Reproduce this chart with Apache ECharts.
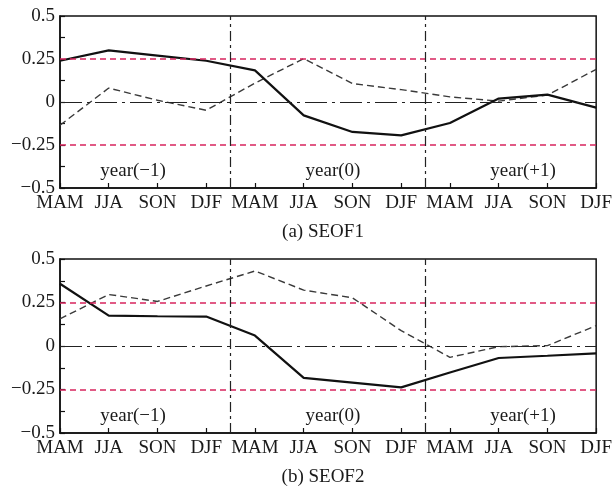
<!DOCTYPE html>
<html><head><meta charset="utf-8">
<script src="https://cdn.jsdelivr.net/npm/echarts@6/dist/echarts.min.js"></script>
<style>html,body{margin:0;padding:0;background:#fff}#c{width:615px;height:487px}</style>
</head><body><div id="c"></div>
<script>
const categories = ['MAM','JJA','SON','DJF','MAM','JJA','SON','DJF','MAM','JJA','SON','DJF'];
const seof1Solid  = [0.24, 0.30, 0.27, 0.24, 0.184, -0.078, -0.174, -0.194, -0.122, 0.02, 0.043, -0.033];
const seof1Dashed = [-0.135, 0.081, 0.01, -0.048, 0.11, 0.252, 0.107, 0.072, 0.03, 0.005, 0.04, 0.19];
const seof2Solid  = [0.358, 0.175, 0.171, 0.169, 0.06, -0.183, -0.21, -0.238, -0.152, -0.069, -0.056, -0.042];
const seof2Dashed = [0.156, 0.296, 0.256, 0.345, 0.431, 0.321, 0.277, 0.088, -0.065, -0.004, 0.002, 0.117];
const yearLabels = ['year(\u22121)', 'year(0)', 'year(+1)'];
const yearPos = [1.5, 5.6, 9.5];
const refLevels = [0.25, -0.25];
const zeroLevel = [0];
const yearBounds = [3.5, 7.5];
const captions = ['(a) SEOF1', '(b) SEOF2'];

const FONT = '"Liberation Serif", "DejaVu Serif", serif';
const chart = echarts.init(document.getElementById('c'), null, {renderer: 'canvas'});

function fmtY(v) {
  if (Math.abs(v * 4 - Math.round(v * 4)) > 1e-6) return '';
  if (Math.abs(v) < 1e-9) return '0';
  return (v < 0 ? '\u2212' : '') + String(Math.abs(v));
}

const grids = [
  {left: 60, top: 16, width: 541, height: 172, show: true, borderColor: '#111', borderWidth: 1.5, backgroundColor: 'transparent'},
  {left: 60, top: 259, width: 541, height: 174, show: true, borderColor: '#111', borderWidth: 1.5, backgroundColor: 'transparent'}
];

const xAxes = grids.map((g, i) => ({
  type: 'value', gridIndex: i, min: 0, max: 11, interval: 1,
  axisLine: {show: true, onZero: false, lineStyle: {color: '#111', width: 1.5}},
  axisTick: {show: true, inside: true, length: 5, lineStyle: {color: '#111', width: 1.2}},
  splitLine: {show: false},
  axisLabel: {color: '#1a1a1a', fontFamily: FONT, fontSize: 19, margin: 6,
    formatter: v => categories[Math.round(v)] || ''}
}));

const yAxes = grids.map((g, i) => ({
  type: 'value', gridIndex: i, min: -0.5, max: 0.5, interval: 0.125,
  axisLine: {show: true, onZero: false, lineStyle: {color: '#111', width: 1.5}},
  axisTick: {show: true, inside: true, length: 5, lineStyle: {color: '#111', width: 1.2}},
  splitLine: {show: false},
  axisLabel: {color: '#1a1a1a', fontFamily: FONT, fontSize: 19, margin: 5, formatter: fmtY}
}));

function refSeries(i, key, values, color, type, width) {
  return {
    type: 'line', xAxisIndex: i, yAxisIndex: i, data: [], symbol: 'none', z: 1, silent: true,
    color: color,
    markLine: {silent: true, symbol: ['none', 'none'], label: {show: false}, animation: false,
      lineStyle: {color: color, type: type, width: width, opacity: 1},
      emphasis: {disabled: true},
      data: values.map(v => ({[key]: v, lineStyle: {color: color, type: type, width: width}}))}
  };
}

function labelSeries(i) {
  return {
    type: 'line', xAxisIndex: i, yAxisIndex: i, data: [], symbol: 'none', silent: true,
    markPoint: {
      silent: true, symbol: 'circle', symbolSize: 1, itemStyle: {color: 'rgba(0,0,0,0)'},
      label: {show: true, position: 'inside', color: '#1a1a1a', fontFamily: FONT, fontSize: 19,
        formatter: p => p.name},
      data: yearLabels.map((t, k) => ({name: t, coord: [yearPos[k], -0.4]}))
    }
  };
}

function pairs(arr) { return arr.map((v, k) => [k, v]); }

const series = [];
[[seof1Solid, seof1Dashed], [seof2Solid, seof2Dashed]].forEach((d, i) => {
  series.push(refSeries(i, 'yAxis', refLevels, '#d8245e', [6, 4], 1.6));
  series.push(refSeries(i, 'yAxis', zeroLevel, '#222', [22, 5, 3, 5], 1.2));
  series.push(refSeries(i, 'xAxis', yearBounds, '#222', [10, 4, 3, 4], 1.2));
  series.push(labelSeries(i));
  series.push({
    type: 'line', xAxisIndex: i, yAxisIndex: i, data: pairs(d[1]), symbol: 'none', z: 3,
    lineStyle: {color: '#3a3a3a', width: 1.4, type: [7, 4]}
  });
  series.push({
    type: 'line', xAxisIndex: i, yAxisIndex: i, data: pairs(d[0]), symbol: 'none', z: 4,
    lineStyle: {color: '#111', width: 2.2}
  });
});

chart.setOption({
  animation: false,
  backgroundColor: '#fff',
  grid: grids, xAxis: xAxes, yAxis: yAxes, series: series,
  graphic: [
    {type: 'text', x: 323, y: 232, style: {text: captions[0], font: '19px ' + FONT, fill: '#1a1a1a', textAlign: 'center', textVerticalAlign: 'middle'}},
    {type: 'text', x: 323, y: 477, style: {text: captions[1], font: '19px ' + FONT, fill: '#1a1a1a', textAlign: 'center', textVerticalAlign: 'middle'}}
  ]
});
</script></body></html>
